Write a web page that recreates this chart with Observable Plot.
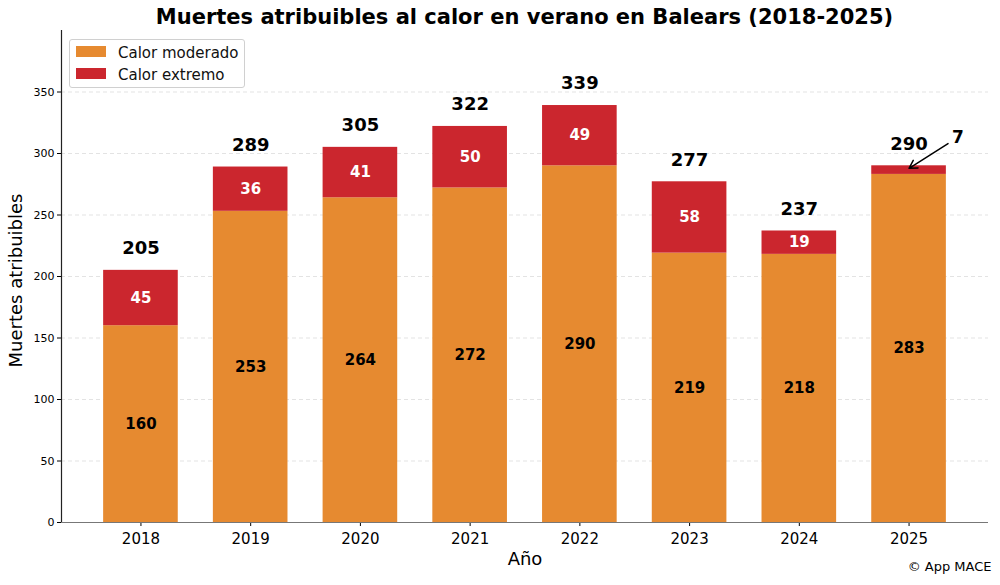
<!DOCTYPE html>
<html>
<head>
<meta charset="utf-8">
<script src="https://cdn.jsdelivr.net/npm/d3@7"></script>
<script src="https://cdn.jsdelivr.net/npm/@observablehq/plot@0.6"></script>
<style>
  html, body { margin: 0; padding: 0; background: #fff; }
  body { width: 1000px; height: 585px; position: relative; overflow: hidden; font-family: "DejaVu Sans", sans-serif; }
  #title { height: 28px; line-height: 34px; padding: 0 12px 0 61px; text-align: center; font-weight: bold; font-size: 21px; color: #000; white-space: nowrap; }
  #legend { position: absolute; left: 69px; top: 39px; width: 176px; height: 49px; box-sizing: border-box; border: 1px solid #d0d0d0; border-radius: 3px; background: rgba(255,255,255,0.85); font-size: 15px; color: #111; }
  .item { position: absolute; left: 6px; height: 14px; }
  .patch { position: absolute; left: 0; top: 0px; width: 30px; height: 11px; }
  .lab { position: absolute; left: 42px; top: -2px; white-space: nowrap; line-height: 18px; }
  svg { display: block; }
</style>
</head>
<body>
<div id="title">Muertes atribuibles al calor en verano en Balears (2018-2025)</div>
<div id="chart"></div>
<div id="legend"></div>
<script>
const years = [2018, 2019, 2020, 2021, 2022, 2023, 2024, 2025];
const moderado = [160, 253, 264, 272, 290, 219, 218, 283];
const extremo = [45, 36, 41, 50, 49, 58, 19, 7];
const yTicks = [0, 50, 100, 150, 200, 250, 300, 350];
const seriesNames = ["Calor moderado", "Calor extremo"];
const seriesColors = ["#E68A30", "#CB262E"];

const halfBar = 0.34;
const totals = years.map((y, i) => moderado[i] + extremo[i]);
const rows = [];
years.forEach((yr, i) => {
  rows.push({year: yr, series: seriesNames[0], y1: 0, y2: moderado[i], value: moderado[i]});
  rows.push({year: yr, series: seriesNames[1], y1: moderado[i], y2: moderado[i] + extremo[i], value: extremo[i]});
});
const modRows = rows.filter(d => d.series === seriesNames[0]);
const extInside = rows.filter(d => d.series === seriesNames[1] && d.value >= 10);
const extOutside = rows.filter(d => d.series === seriesNames[1] && d.value < 10);

const span = years[years.length-1] - years[0] + 2 * halfBar;
const xDomain = [years[0] - halfBar - 0.05 * span, years[years.length-1] + halfBar + 0.05 * span];

const font = "DejaVu Sans, sans-serif";

const chart = Plot.plot({
  width: 1000,
  height: 557,
  marginLeft: 61,
  marginRight: 12,
  marginTop: 2,
  marginBottom: 63,
  style: {fontFamily: font, background: "#fff", color: "#000"},
  x: {type: "linear", domain: xDomain},
  y: {domain: [0, 400]},
  color: {domain: seriesNames, range: seriesColors},
  marks: [
    Plot.gridY(yTicks.slice(1), {stroke: "#cccccc", strokeOpacity: 0.7, strokeDasharray: "4,3", strokeWidth: 0.8}),
    Plot.rectY(rows, {x1: d => d.year - halfBar, x2: d => d.year + halfBar, y1: "y1", y2: "y2", fill: "series"}),
    Plot.axisY({ticks: yTicks, tickSize: 4, tickPadding: 3, fontSize: 11, label: null, tickFormat: d => String(d)}),
    Plot.axisX({ticks: years, tickSize: 4, tickPadding: 7, fontSize: 15, label: null, tickFormat: d => String(d)}),
    Plot.ruleY([0], {stroke: "#777", strokeWidth: 1.2}),
    Plot.ruleX([xDomain[0]], {y1: 0, y2: 400, stroke: "#222", strokeWidth: 1.2}),
    Plot.text(modRows, {x: "year", y: d => d.y2 / 2, text: d => String(d.value), fill: "#000", fontWeight: "bold", fontSize: 15}),
    Plot.text(extInside, {x: "year", y: d => (d.y1 + d.y2) / 2, text: d => String(d.value), fill: "#fff", fontWeight: "bold", fontSize: 15}),
    Plot.text(years, {x: d => d, y: (d, i) => totals[i], text: (d, i) => String(totals[i]), dy: -22, fill: "#000", fontWeight: "bold", fontSize: 18}),
    Plot.arrow(extOutside, {x1: d => d.year + 0.355, y1: d => d.y2 + 18, x2: d => d.year, y2: d => d.y2 - 2, stroke: "#000", strokeWidth: 1.5, headLength: 9}),
    Plot.text(extOutside, {x: d => d.year + 0.445, y: d => d.y2 + 23, text: d => String(d.value), fill: "#000", fontWeight: "bold", fontSize: 17}),
    Plot.text(["Muertes atribuibles"], {frameAnchor: "left", textAnchor: "middle", dx: -45, dy: 4, rotate: -90, fontSize: 18, fill: "#000"}),
    Plot.text(["Año"], {frameAnchor: "bottom", dy: 42, fontSize: 18, fill: "#000"}),
    Plot.text(["© App MACE"], {frameAnchor: "bottom-right", textAnchor: "end", dx: 3, dy: 48, fontSize: 13, fill: "#000"})
  ]
});
document.getElementById("chart").appendChild(chart);

const legend = document.getElementById("legend");
seriesNames.forEach((name, i) => {
  const item = document.createElement("div");
  item.className = "item";
  item.style.top = (6 + i * 22) + "px";
  item.innerHTML = `<div class="patch" style="background:${seriesColors[i]}"></div><div class="lab">${name}</div>`;
  legend.appendChild(item);
});
</script>
</body>
</html>
